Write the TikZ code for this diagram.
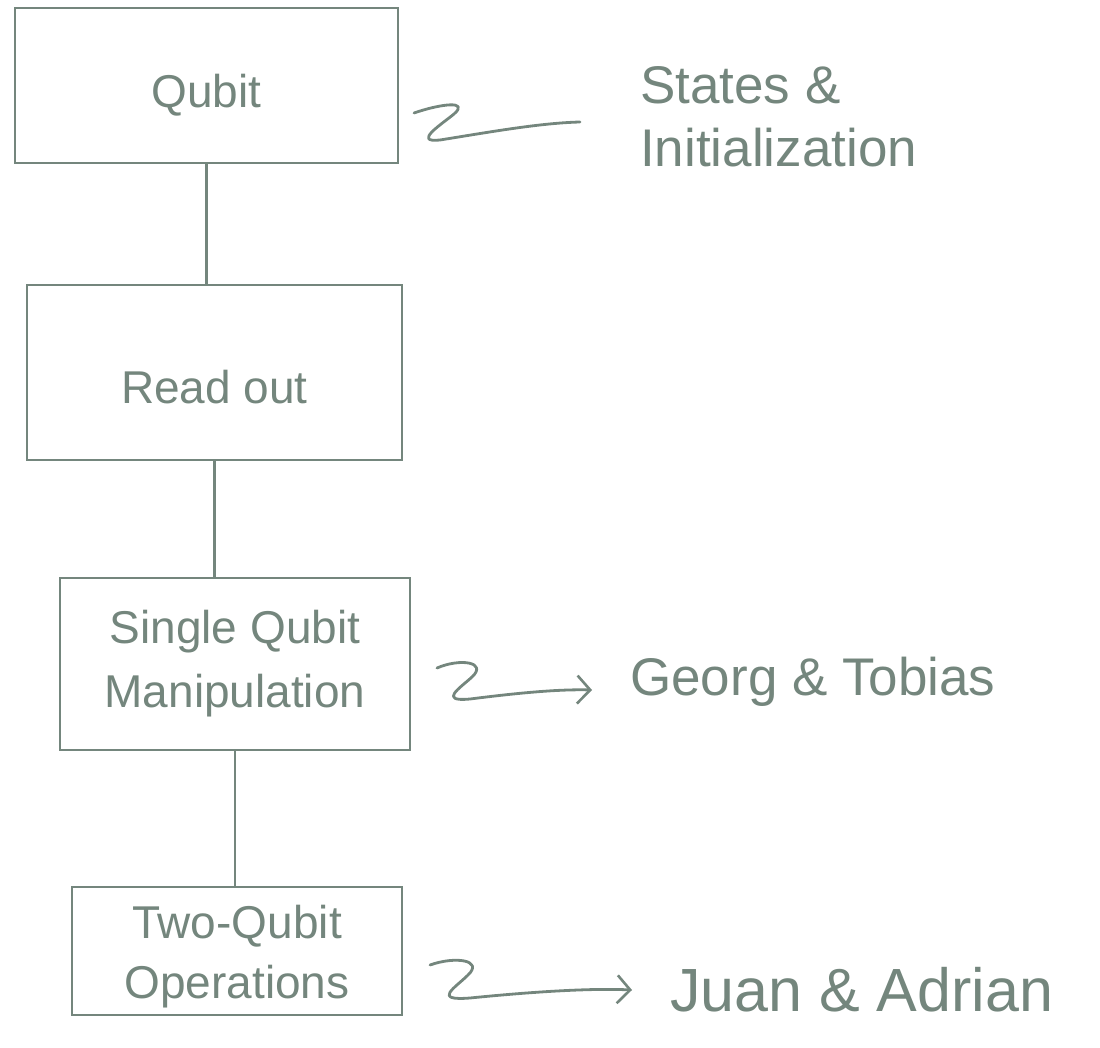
\documentclass[tikz,border=0pt]{standalone}
\usepackage{fontspec}
\setmainfont{Liberation Sans}
\usetikzlibrary{arrows.meta}
\definecolor{pencil}{RGB}{116,134,125}
\newcommand{\lowerby}[2]{\raisebox{-#1}[\height][\depth]{#2}}
\tikzset{
  box/.style={draw=pencil, line width=2.4pt, rectangle, inner sep=0pt, text=pencil, align=center,
     font=\fontsize{46}{64}\selectfont},
  link/.style={draw=pencil, line width=2.2pt},
  squig/.style={draw=pencil, line width=2.8pt, line cap=round, line join=round},
  squigarrow/.style={squig, -{Straight Barb[length=13pt,width=28pt,line width=2.6pt]}},
  lbl/.style={text=pencil, anchor=west, align=left, inner sep=0pt, font=\fontsize{53}{63}\selectfont}
}
\begin{document}
\begin{tikzpicture}[x=1pt,y=-1pt]
\useasboundingbox (0,0) rectangle (1100,1048);
% boxes
\node[box, minimum width=383pt, minimum height=155pt] (A) at (206.5,85.5) {\lowerby{10pt}{Qubit}};
\node[box, minimum width=375pt, minimum height=175pt] (B) at (214.5,372.5) {\lowerby{15pt}{Read out}};
\node[box, minimum width=350pt, minimum height=172pt] (C) at (235,664) {Single Qubit\\Manipulation};
\node[box, minimum width=330pt, minimum height=128pt] (D) at (237,951) {\lowerby{5pt}{\begin{tabular}{@{}c@{}}Two-Qubit\\[-4pt]Operations\end{tabular}}};
% vertical connectors
\draw[link] (A.south) -- (A.south |- B.north);
\draw[link] (B.south) -- (B.south |- C.north);
\draw[link] (C.south) -- (C.south |- D.north);
% labels
\node[lbl] (S1) at (640,117) {States \&\\Initialization};
\node[lbl] (S2) at (630,682) {Georg \& Tobias};
\node[lbl, font=\fontsize{61}{63}\selectfont] (S3) at (670,990) {Juan \& Adrian};
% squiggle coordinates
\coordinate (q1) at (414,113);
\coordinate (q1e) at (580,122);
\coordinate (q2) at (437,668);
\coordinate (q2e) at (592,690);
\coordinate (q3) at (430,965);
\coordinate (q3e) at (632,990);
% squiggles
\draw[squig] (q1) .. controls (440,104) and (470,100) .. (454,114)
   .. controls (442,124) and (412,143) .. (440,140)
   .. controls (490,132) and (540,123) .. (q1e);
\draw[squigarrow] (q2) .. controls (460,658) and (488,662) .. (472,677)
   .. controls (460,688) and (438,702) .. (470,699)
   .. controls (510,694) and (555,689) .. (q2e);
\draw[squigarrow] (q3) .. controls (455,956) and (484,960) .. (468,975)
   .. controls (455,988) and (432,1001) .. (470,998)
   .. controls (530,992) and (590,988) .. (q3e);
\end{tikzpicture}
\end{document}
